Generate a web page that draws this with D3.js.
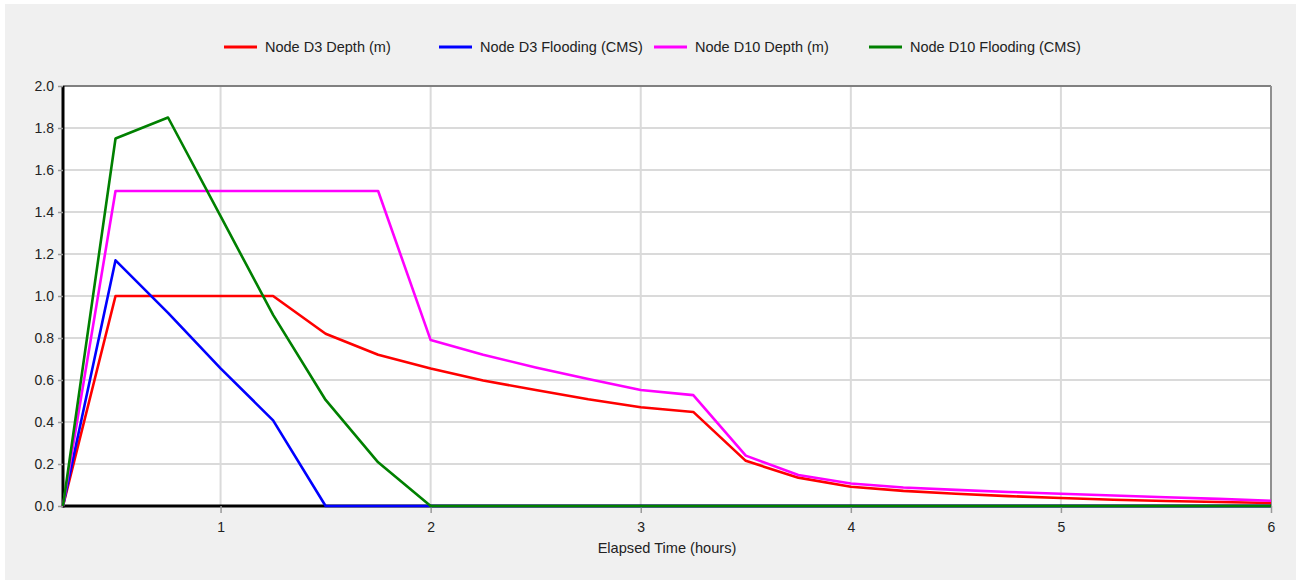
<!DOCTYPE html>
<html>
<head>
<meta charset="utf-8">
<script src="https://cdn.jsdelivr.net/npm/d3@7"></script>
<style>
  body { margin: 0; background: #ffffff; }
  svg { display: block; font-family: "Liberation Sans", Arial, sans-serif; }
</style>
</head>
<body>
<svg id="chart" width="1301" height="584"></svg>
<script>
// time steps (hours)
const hours = [0.25, 0.5, 0.75, 1.0, 1.25, 1.5, 1.75, 2.0, 2.25, 2.5, 2.75, 3.0,
  3.25, 3.5, 3.75, 4.0, 4.25, 4.5, 4.75, 5.0, 5.25, 5.5, 5.75, 6.0];

const d3Depth = [0, 1.0, 1.0, 1.0, 1.0, 0.82, 0.72, 0.655, 0.598, 0.552, 0.508, 0.47,
  0.448, 0.215, 0.135, 0.092, 0.072, 0.058, 0.047, 0.038, 0.03, 0.024, 0.019, 0.014];
const d3Flooding = [0, 1.17, 0.92, 0.655, 0.408, 0, 0, 0, 0, 0, 0, 0,
  0, 0, 0, 0, 0, 0, 0, 0, 0, 0, 0, 0];
const d10Depth = [0, 1.5, 1.5, 1.5, 1.5, 1.5, 1.5, 0.79, 0.72, 0.66, 0.605, 0.552,
  0.528, 0.24, 0.148, 0.107, 0.088, 0.077, 0.067, 0.058, 0.05, 0.042, 0.034, 0.025];
const d10Flooding = [0, 1.75, 1.85, 1.38, 0.91, 0.505, 0.208, 0, 0, 0, 0, 0,
  0, 0, 0, 0, 0, 0, 0, 0, 0, 0, 0, 0];

const seriesNames = ['Node D3 Depth (m)', 'Node D3 Flooding (CMS)', 'Node D10 Depth (m)', 'Node D10 Flooding (CMS)'];
const seriesColors = ['#ff0000', '#0000ff', '#ff00ff', '#008000'];
const seriesValues = [d3Depth, d3Flooding, d10Depth, d10Flooding];

const xTicks = [1, 2, 3, 4, 5, 6];
const yTicks = [0, 0.2, 0.4, 0.6, 0.8, 1.0, 1.2, 1.4, 1.6, 1.8, 2.0];

const margin = {left: 63, right: 30, top: 86, bottom: 78};
const width = 1301, height = 584;

const svg = d3.select('svg#chart');

// panel background
svg.append('rect')
  .attr('x', 5).attr('y', 4)
  .attr('width', 1291).attr('height', 576)
  .attr('fill', '#f0f0f0');

const x = d3.scaleLinear()
  .domain([0.25, 6])
  .range([margin.left, width - margin.right]);
const y = d3.scaleLinear()
  .domain([0, 2])
  .range([height - margin.bottom, margin.top]);

// plot area
svg.append('rect')
  .attr('x', x(0.25)).attr('y', y(2))
  .attr('width', x(6) - x(0.25)).attr('height', y(0) - y(2))
  .attr('fill', '#ffffff');

// grid
svg.append('g').selectAll('line.hgrid').data(yTicks.slice(1, -1)).enter()
  .append('line')
  .attr('x1', x(0.25)).attr('x2', x(6))
  .attr('y1', d => y(d)).attr('y2', d => y(d))
  .attr('stroke', '#dadada').attr('stroke-width', 2);
svg.append('g').selectAll('line.vgrid').data(xTicks.slice(0, -1)).enter()
  .append('line')
  .attr('y1', y(0)).attr('y2', y(2))
  .attr('x1', d => x(d)).attr('x2', d => x(d))
  .attr('stroke', '#dadada').attr('stroke-width', 2);

// frame: top and right
svg.append('line')
  .attr('x1', x(0.25)).attr('x2', x(6)).attr('y1', y(2)).attr('y2', y(2))
  .attr('stroke', '#808080').attr('stroke-width', 2);
svg.append('line')
  .attr('x1', x(6)).attr('x2', x(6)).attr('y1', y(2)).attr('y2', y(0))
  .attr('stroke', '#909090').attr('stroke-width', 2);

// axes
const yAxis = d3.axisLeft(y).tickValues(yTicks).tickFormat(d3.format('.1f'))
  .tickSize(5).tickPadding(4);
const gy = svg.append('g')
  .attr('transform', `translate(${x(0.25)},0)`)
  .call(yAxis);

const xAxis = d3.axisBottom(x).tickValues(xTicks).tickFormat(d3.format('d'))
  .tickSize(7).tickPadding(9);
const gx = svg.append('g')
  .attr('transform', `translate(0,${y(0)})`)
  .call(xAxis);

[gx, gy].forEach(g => {
  g.select('.domain').attr('stroke', '#000').attr('stroke-width', 3);
  g.selectAll('.tick line').attr('stroke', '#999').attr('stroke-width', 1.5);
  g.selectAll('.tick text').attr('fill', '#222').style('font-size', '14px')
    .style('font-family', '"Liberation Sans", Arial, sans-serif');
});
gy.select('.domain').attr('d', `M0,${y(0) + 1.5}V${y(2)}`);
gx.select('.domain').attr('d', `M${x(0.25)},0H${x(6)}`);

svg.append('text')
  .attr('x', (x(0.25) + x(6)) / 2).attr('y', 553)
  .attr('text-anchor', 'middle')
  .attr('fill', '#222')
  .style('font-size', '14.6px')
  .text('Elapsed Time (hours)');

// series
const line = d3.line()
  .x((d, i) => x(hours[i]))
  .y(d => y(d));

svg.append('g').selectAll('path.series').data(seriesValues).enter()
  .append('path')
  .attr('class', 'series')
  .attr('fill', 'none')
  .attr('stroke', (d, i) => seriesColors[i])
  .attr('stroke-width', 2.6)
  .attr('stroke-linejoin', 'round')
  .attr('d', line);

// legend
const legend = svg.append('g').attr('transform', 'translate(224,47)');
const items = legend.selectAll('g.item').data(seriesNames).enter()
  .append('g')
  .attr('class', 'item')
  .attr('transform', (d, i) => `translate(${i * 215},0)`);
items.append('line')
  .attr('x1', 0).attr('x2', 33).attr('y1', 0).attr('y2', 0)
  .attr('stroke', (d, i) => seriesColors[i])
  .attr('stroke-width', 3);
items.append('text')
  .attr('x', 41).attr('y', 0).attr('dy', '0.35em')
  .attr('fill', '#222')
  .style('font-size', '14.5px')
  .text(d => d);
</script>
</body>
</html>
